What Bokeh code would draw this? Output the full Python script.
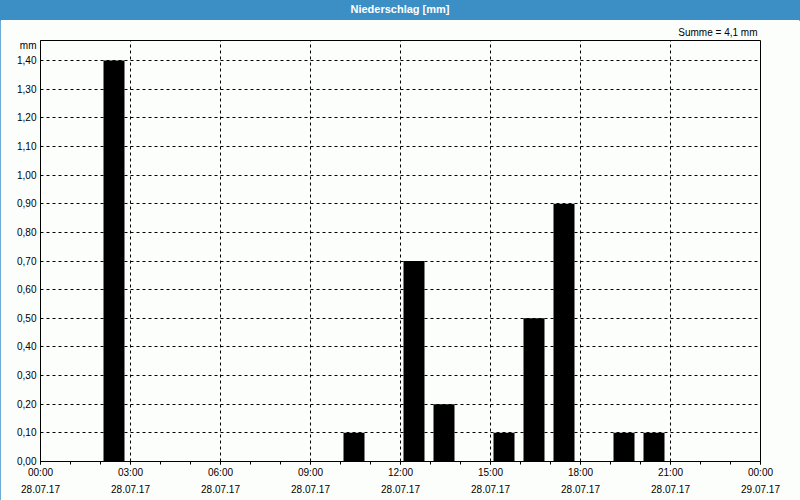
from bokeh.plotting import figure
from bokeh.models import FixedTicker, LinearAxis, Div, Range1d, CustomJSTickFormatter, Title
from bokeh.layouts import column
from bokeh.embed import file_html
from bokeh.resources import INLINE

# hourly precipitation (mm), hour start 0..23 on 28.07.17
hours = [0, 1, 2, 3, 4, 5, 6, 7, 8, 9, 10, 11, 12, 13, 14, 15, 16, 17, 18, 19, 20, 21, 22, 23]
precip = [0.0, 0.0, 1.4, 0.0, 0.0, 0.0, 0.0, 0.0, 0.0, 0.0, 0.1, 0.0,
          0.7, 0.2, 0.0, 0.1, 0.5, 0.9, 0.0, 0.1, 0.1, 0.0, 0.0, 0.0]

x_major = [0, 3, 6, 9, 12, 15, 18, 21, 24]
x_minor = [0, 1, 2, 3, 4, 5, 6, 7, 8, 9, 10, 11, 12, 13, 14, 15, 16, 17, 18, 19, 20, 21, 22, 23, 24]
time_labels = ["00:00", "03:00", "06:00", "09:00", "12:00", "15:00", "18:00", "21:00", "00:00"]
date_labels = ["28.07.17", "28.07.17", "28.07.17", "28.07.17", "28.07.17",
               "28.07.17", "28.07.17", "28.07.17", "29.07.17"]
y_ticks = [0.0, 0.1, 0.2, 0.3, 0.4, 0.5, 0.6, 0.7, 0.8, 0.9, 1.0, 1.1, 1.2, 1.3, 1.4]
unit_pos = 1.4525  # where the "mm" unit text sits on the y axis

FONT = "Liberation Sans"
BG = "#fcfefc"
BLUE = "#3c8fc5"

total = sum(precip)
sum_text = "Summe = " + ("%.1f" % total).replace(".", ",") + " mm"

p = figure(width=800, height=480, output_backend="svg", toolbar_location=None,
           x_range=Range1d(0, 24), y_range=Range1d(0, 1.47),
           min_border_left=40, min_border_right=40, min_border_top=20, min_border_bottom=39,
           background_fill_color=BG, border_fill_color=BG,
           outline_line_color="black", outline_line_width=1, margin=0)

# bars occupy 0.1..0.8 of each hour
bar_x = [h + 0.45 for h in hours]
p.vbar(x=bar_x, top=precip, bottom=0, width=0.7, fill_color="black", line_color="black", line_width=0)

# x axis (times)
xa = p.xaxis[0]
xa.ticker = FixedTicker(ticks=x_major, minor_ticks=x_minor)
xa.major_label_overrides = {t: l for t, l in zip(x_major, time_labels)}
xa.major_tick_in = 0
xa.major_tick_out = 3
xa.minor_tick_in = 0
xa.minor_tick_out = 3
xa.major_label_standoff = 2
xa.major_label_text_font = FONT
xa.major_label_text_font_size = "10px"
xa.major_label_text_color = "black"
xa.axis_line_color = "black"
xa.major_tick_line_color = "black"
xa.minor_tick_line_color = "black"

# second x axis (dates)
xb = LinearAxis(ticker=FixedTicker(ticks=x_major),
                major_label_overrides={t: l for t, l in zip(x_major, date_labels)},
                axis_line_color=None, major_tick_line_color=None, minor_tick_line_color=None,
                major_tick_in=0, major_tick_out=0, major_label_standoff=4,
                major_label_text_font=FONT, major_label_text_font_size="10px",
                major_label_text_color="black")
p.add_layout(xb, "below")

# y axis (with the unit "mm" as top label)
ya = p.yaxis[0]
ya.ticker = FixedTicker(ticks=y_ticks + [unit_pos])
ya.formatter = CustomJSTickFormatter(
    code="if (tick > 1.41) { return 'mm'; } return tick.toFixed(2).replace('.', ',');")
ya.major_tick_in = 0
ya.major_tick_out = 0
ya.minor_tick_line_color = None
ya.major_label_standoff = 4
ya.major_label_text_font = FONT
ya.major_label_text_font_size = "10px"
ya.major_label_text_color = "black"
ya.axis_line_color = "black"

# grids
p.xgrid.ticker = FixedTicker(ticks=x_major[1:-1])
p.ygrid.ticker = FixedTicker(ticks=y_ticks[1:])
for g in (p.xgrid[0], p.ygrid[0]):
    g.grid_line_color = "black"
    g.grid_line_dash = "3 3"
    g.grid_line_width = 1

# sum text above the frame, right aligned
p.add_layout(Title(text=sum_text, align="right", offset=3, standoff=6,
                   text_font=FONT, text_font_size="10px", text_font_style="normal",
                   text_color="black"), "above")

title = Div(text="Niederschlag [mm]", width=800, height=20, margin=0,
            styles={"background-color": BLUE, "color": "white", "font-weight": "bold",
                    "font-family": FONT, "font-size": "11px", "text-align": "center",
                    "line-height": "19px", "width": "800px", "height": "20px"})

layout = column(title, p, spacing=0, margin=0,
                styles={"outline": "1px solid " + BLUE, "outline-offset": "-1px"})

open("out.html", "w").write(file_html(layout, INLINE))
